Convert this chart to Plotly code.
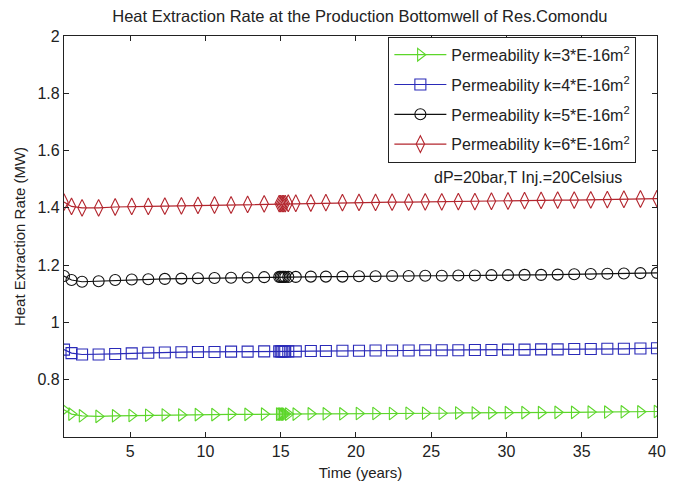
import plotly.graph_objects as go

# Simulation output times (years)
time_yr = [0.6, 1.1, 1.8, 2.9, 4.0, 5.1, 6.2, 7.3, 8.4, 9.5, 10.6, 11.7, 12.8, 13.9,
           14.9, 15.0, 15.1, 15.2, 15.3, 15.5,
           16.0, 17.0, 18.0, 19.1, 20.2, 21.3, 22.4, 23.5, 24.6, 25.7, 26.8, 27.9,
           29.0, 30.1, 31.2, 32.3, 33.4, 34.5, 35.6, 36.7, 37.8, 38.9, 40.0]

# Heat extraction rate (MW) per permeability case
rate_k3 = [0.695, 0.680, 0.674, 0.672, 0.674, 0.675, 0.676, 0.677, 0.677, 0.678, 0.678, 0.679, 0.679, 0.680,
           0.680, 0.680, 0.680, 0.680, 0.680, 0.680,
           0.680, 0.681, 0.681, 0.681, 0.682, 0.682, 0.682, 0.683, 0.683, 0.683, 0.684, 0.684,
           0.684, 0.685, 0.685, 0.685, 0.686, 0.686, 0.687, 0.687, 0.688, 0.688, 0.689]
rate_k4 = [0.905, 0.893, 0.888, 0.888, 0.890, 0.892, 0.894, 0.895, 0.896, 0.897, 0.897, 0.898, 0.898, 0.899,
           0.899, 0.899, 0.899, 0.899, 0.899, 0.899,
           0.899, 0.900, 0.900, 0.901, 0.901, 0.902, 0.902, 0.902, 0.903, 0.903, 0.903, 0.904,
           0.904, 0.905, 0.905, 0.906, 0.906, 0.907, 0.907, 0.908, 0.908, 0.909, 0.910]
rate_k5 = [1.162, 1.148, 1.142, 1.144, 1.148, 1.150, 1.151, 1.152, 1.153, 1.154, 1.155, 1.156, 1.157, 1.158,
           1.159, 1.159, 1.159, 1.159, 1.159, 1.159,
           1.159, 1.160, 1.160, 1.160, 1.161, 1.161, 1.162, 1.162, 1.163, 1.163, 1.164, 1.164,
           1.165, 1.165, 1.166, 1.166, 1.167, 1.168, 1.169, 1.170, 1.171, 1.172, 1.173]
rate_k6 = [1.420, 1.405, 1.400, 1.400, 1.403, 1.405, 1.405, 1.406, 1.407, 1.409, 1.410, 1.410, 1.412, 1.414,
           1.415, 1.415, 1.415, 1.415, 1.415, 1.416,
           1.416, 1.417, 1.418, 1.418, 1.419, 1.419, 1.420, 1.420, 1.421, 1.421, 1.422, 1.422,
           1.423, 1.424, 1.425, 1.426, 1.427, 1.427, 1.428, 1.429, 1.430, 1.431, 1.432]

series_names = ["Permeability k=3*E-16m<sup>2</sup>",
                "Permeability k=4*E-16m<sup>2</sup>",
                "Permeability k=5*E-16m<sup>2</sup>",
                "Permeability k=6*E-16m<sup>2</sup>"]

y_ticks = [0.8, 1.0, 1.2, 1.4, 1.6, 1.8, 2.0]
y_tick_text = ["0.8", "1", "1.2", "1.4", "1.6", "1.8", "2"]
x_ticks = [5, 10, 15, 20, 25, 30, 35, 40]

FONT = "Liberation Sans, Arial, sans-serif"
INK = "#222222"

styles = [
    dict(color="#5cd62a", symbol="triangle-right-open", size=11),
    dict(color="#2a2ab8", symbol="square-open", size=11),
    dict(color="#111111", symbol="circle-open", size=11),
    dict(color="#b3262e", symbol="diamond-tall-open", size=12),
]

fig = go.Figure()
for i, (name, vals, st) in enumerate(zip(series_names, [rate_k3, rate_k4, rate_k5, rate_k6], styles)):
    fig.add_trace(go.Scatter(
        x=time_yr, y=vals, name=name, mode="lines+markers", legendgroup=f"g{i}",
        line=dict(color=st["color"], width=1.2),
        marker=dict(symbol=st["symbol"], size=st["size"], color=st["color"],
                    line=dict(width=1.1, color=st["color"])),
    ))

axis_common = dict(
    showline=True, linecolor=INK, linewidth=1.2, mirror="ticks",
    ticks="inside", ticklen=5, tickcolor=INK, showgrid=False, zeroline=False,
    tickfont=dict(family=FONT, size=16, color=INK), automargin=False,
)

fig.update_layout(
    width=674, height=483,
    margin=dict(l=64, r=17, t=36, b=46),
    paper_bgcolor="white", plot_bgcolor="white",
    font=dict(family=FONT, color=INK),
    title=dict(text="Heat Extraction Rate at the Production Bottomwell of Res.Comondu",
               x=0.534, xanchor="center", y=0.967, yanchor="middle",
               font=dict(family=FONT, size=16.5, color=INK)),
    xaxis=dict(range=[0.6, 40], tickvals=x_ticks,
               title=dict(text="Time (years)", standoff=8,
                          font=dict(family=FONT, size=15, color=INK)),
               **axis_common),
    yaxis=dict(range=[0.6, 2.0], tickvals=y_ticks, ticktext=y_tick_text,
               title=dict(text="Heat Extraction Rate (MW)", standoff=8,
                          font=dict(family=FONT, size=15, color=INK)),
               **axis_common),
    legend=dict(x=0.547, y=0.998, xanchor="left", yanchor="top",
                bgcolor="white", bordercolor=INK, borderwidth=1,
                font=dict(family=FONT, size=16, color=INK),
                tracegroupgap=6, itemwidth=52),
    showlegend=True,
)

fig.add_annotation(text="dP=20bar,T Inj.=20Celsius", xref="paper", yref="paper",
                   x=0.782, y=0.648, xanchor="center", yanchor="middle", showarrow=False,
                   font=dict(family=FONT, size=16, color=INK))

fig.write_html("out.html")
